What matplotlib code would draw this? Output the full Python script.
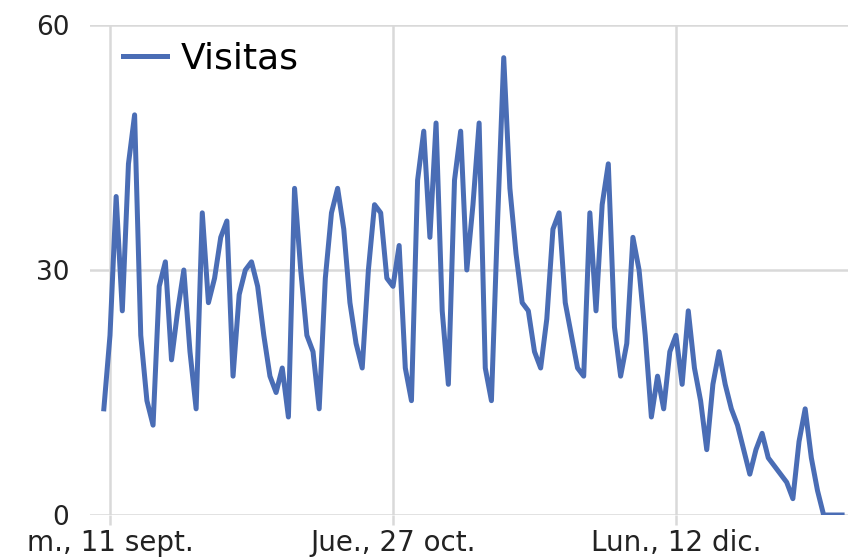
import matplotlib
matplotlib.use("Agg")
import matplotlib.pyplot as plt
import matplotlib.dates as mdates
import matplotlib.transforms as mtransforms
import pandas as pd

start_date = "2011-09-10"
visits = [13, 22, 39, 25, 43, 49, 22, 14, 11, 28,
          31, 19, 25, 30, 20, 13, 37, 26, 29, 34,
          36, 17, 27, 30, 31, 28, 22, 17, 15, 18,
          12, 40, 30, 22, 20, 13, 29, 37, 40, 35,
          26, 21, 18, 30, 38, 37, 29, 28, 33, 18,
          14, 41, 47, 34, 48, 25, 16, 41, 47, 30,
          38, 48, 18, 14, 36, 56, 40, 32, 26, 25,
          20, 18, 24, 35, 37, 26, 22, 18, 17, 37,
          25, 38, 43, 23, 17, 21, 34, 30, 22, 12,
          17, 13, 20, 22, 16, 25, 18, 14, 8, 16,
          20, 16, 13, 11, 8, 5, 8, 10, 7, 6,
          5, 4, 2, 9, 13, 7, 3, 0, 0, 0, 0]
dates = pd.date_range(start_date, periods=len(visits), freq="D")

tick_dates = ["2011-09-11", "2011-10-27", "2011-12-12"]
tick_labels = ["m., 11 sept.", "Jue., 27 oct.", "Lun., 12 dic."]
y_ticks = [0, 30, 60]
series_name = "Visitas"

fig = plt.figure(figsize=(8.48, 5.6), dpi=100)
ax = fig.add_axes([90 / 848, 45 / 560, 758 / 848, 490 / 560])

ax.plot(dates, visits, color="#4a6db5", lw=3.6, label=series_name,
        solid_joinstyle="round")

px_per_day = 6.152
t0 = mdates.date2num(pd.Timestamp(tick_dates[0]))
ax.set_xlim(t0 - 20 / px_per_day, t0 + 738 / px_per_day)
ax.set_ylim(0, 60)

ax.set_xticks([mdates.date2num(pd.Timestamp(d)) for d in tick_dates])
ax.set_xticklabels(tick_labels, fontsize=20, color="#222222")
ax.set_yticks(y_ticks)
ax.set_yticklabels([str(v) for v in y_ticks], fontsize=19, color="#222222")
zero_lbl = ax.get_yticklabels()[0]
zero_lbl.set_transform(zero_lbl.get_transform() +
                       mtransforms.ScaledTranslation(0, 5 / 100, fig.dpi_scale_trans))

ax.grid(True, color="#d9d9d9", lw=1.8)
ax.set_axisbelow(True)
for s in ax.spines.values():
    s.set_visible(False)
ax.tick_params(axis="x", length=7, width=1.8, color="#d9d9d9", pad=3)
ax.tick_params(axis="y", length=0, pad=15)

ax.legend(loc="upper left", bbox_to_anchor=(0.025, 0.995), frameon=False,
          fontsize=26, handlelength=1.2, handletextpad=0.4,
          borderaxespad=0.0)

fig.savefig("out.png", dpi=100)
